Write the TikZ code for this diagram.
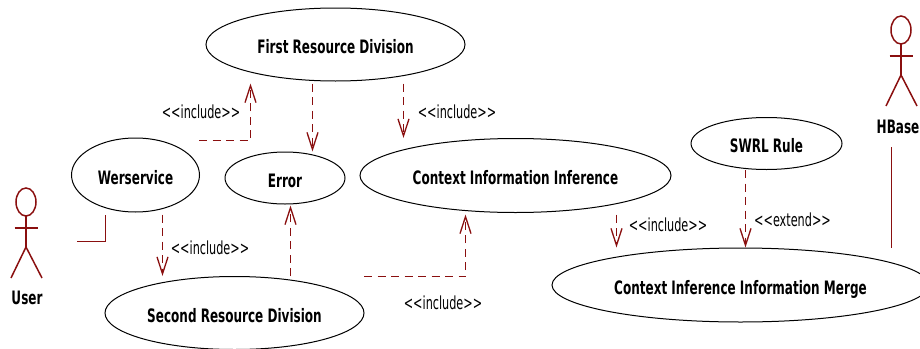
\documentclass[tikz,border=0pt]{standalone}
\usepackage{fontspec}
\usetikzlibrary{shapes.geometric,arrows.meta}
\newfontfamily\labelfont[FakeStretch=0.625]{DejaVu Sans}
\newfontfamily\usecasefont[FakeStretch=0.65]{DejaVu Sans Bold}
\definecolor{umlred}{HTML}{8A0F0F}
\tikzset{
    >={Straight Barb[length=17pt,width=11pt,line width=1.3pt]},
    usecase/.style={draw, ellipse, inner sep=0pt, line width=1pt, text height=18pt, text depth=0pt, font=\usecasefont\fontsize{18.5}{20}\selectfont},
    dep/.style={draw=umlred, dashed, dash pattern=on 8pt off 5.5pt, line width=1.5pt, ->},
    assoc/.style={draw=umlred, line width=1.5pt},
    stereo/.style={inner sep=0pt, font=\labelfont\fontsize{18}{20}\selectfont},
    actorname/.style={inner sep=0pt, font=\usecasefont\fontsize{18.5}{20}\selectfont},
}
\newcommand{\Actor}[2]{
    \draw[assoc] (#1,#2) ellipse (10 and 14);
    \draw[assoc] (#1-11.5,#2+26) -- (#1+12,#2+26);
    \draw[assoc] (#1,#2+14) -- (#1,#2+45);
    \draw[assoc] (#1-15,#2+76) -- (#1,#2+45) -- (#1+16,#2+76);
}
\begin{document}
\begin{tikzpicture}[x=1pt,y=-1pt]

    \useasboundingbox (0,0) rectangle (920,348);

    \draw(335.5,44.5) node[usecase, minimum width=259pt, minimum height=73pt] (first) {First Resource Division};
    \draw(135.5,175) node[usecase, minimum width=128pt, minimum height=74pt] (web) {Werservice};
    \draw(285,178) node[usecase, minimum width=120pt, minimum height=52pt] (error) {Error};
    \draw(515.5,175.5) node[usecase, minimum width=311pt, minimum height=74pt] (infer) {Context Information Inference};
    \draw(234.5,313) node[usecase, minimum width=259pt, minimum height=73pt] (second) {Second Resource Division};
    \draw(766.5,143.5) node[usecase, minimum width=151pt, minimum height=52pt] (swrl) {SWRL Rule};
    \draw(740.5,285) node[usecase, minimum width=377pt, minimum height=74pt] (merge) {Context Inference Information Merge};

    \Actor{26}{202}
    \Actor{901}{30}
    \draw(27,298) node[actorname] (user) {User};
    \draw(898,127) node[actorname] (hbase) {HBase};

    % free ends
    \coordinate (webout) at (199,140.5);
    \coordinate (secondout) at (364,276.5);
    \coordinate (userout) at (77,241.5);
    \coordinate (hbaseout) at (891.5,147);

    % columns of the vertical connectors
    \coordinate (colA) at (250.5,0);
    \coordinate (colB) at (312.5,0);
    \coordinate (colC) at (403.5,0);
    \coordinate (colD) at (162.5,0);
    \coordinate (colE) at (290.5,0);
    \coordinate (colF) at (465.5,0);
    \coordinate (colG) at (616.5,0);
    \coordinate (colH) at (745.5,0);
    \coordinate (colU) at (105.5,0);

    \draw[dep, shorten >=2pt] (webout) -| (colA |- first.south);
    \draw[dep, shorten <=2pt] (colB |- first.south) -- (colB |- error.north);
    \draw[dep, shorten <=2pt] (colC |- first.south) -- (colC |- infer.north);
    \draw[dep, shorten <=2pt] (colD |- web.south) -- (colD |- second.north);
    \draw[dep, shorten >=1pt] (colE |- second.north) -- (colE |- error.south);
    \draw[dep, shorten >=1.5pt] (secondout) -| (colF |- infer.south);
    \draw[dep, shorten <=1.5pt] (colG |- infer.south) -- (colG |- merge.north);
    \draw[dep] (colH |- swrl.south) -- (colH |- merge.north);

    \draw[assoc, shorten >=2pt] (userout) -| (colU |- web.south);
    \draw[assoc] (hbaseout) -- (hbaseout |- merge.north);

    \draw(201,112) node[stereo] (lbfirst) {<<include>>};
    \draw(457,112) node[stereo] (lbinfer) {<<include>>};
    \draw(210,248) node[stereo] (lbsecond) {<<include>>};
    \draw(443,303) node[stereo] (lbcontext) {<<include>>};
    \draw(668,225) node[stereo] (lbmerge) {<<include>>};
    \draw(792.5,220) node[stereo] (lbextend) {<<extend>>};

\end{tikzpicture}
\end{document}
